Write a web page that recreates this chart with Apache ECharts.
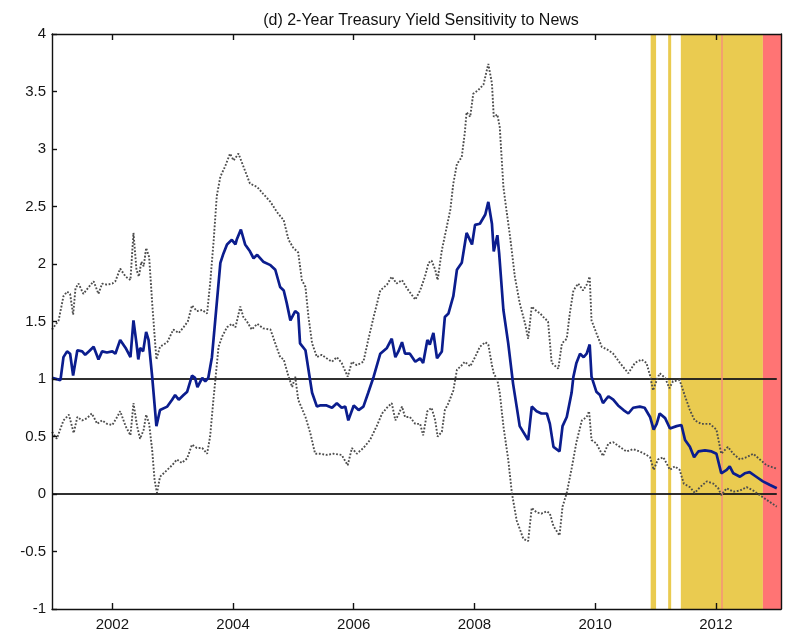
<!DOCTYPE html>
<html>
<head>
<meta charset="utf-8">
<title>2-Year Treasury Yield Sensitivity to News</title>
<script src="https://cdn.jsdelivr.net/npm/echarts@6/dist/echarts.min.js"></script>
<style>
  html, body { margin: 0; padding: 0; background: #fff; }
  #chart { width: 795px; height: 634px; }
</style>
</head>
<body>
<div id="chart"></div>
<script>
// Rolling sensitivity estimate of the 2-year yield to news (decimal year, value)
const estimate = [
  [2001.00,1.01],[2001.14,0.99],[2001.19,1.19],[2001.25,1.24],[2001.30,1.22],[2001.35,1.03],
  [2001.42,1.25],[2001.50,1.24],[2001.55,1.21],[2001.61,1.24],[2001.69,1.28],[2001.77,1.17],
  [2001.83,1.24],[2001.91,1.23],[2002.00,1.24],[2002.05,1.22],[2002.13,1.34],[2002.22,1.27],
  [2002.30,1.19],[2002.35,1.51],[2002.40,1.31],[2002.43,1.17],[2002.46,1.27],[2002.51,1.24],
  [2002.56,1.41],[2002.60,1.34],[2002.66,1.02],[2002.73,0.59],[2002.79,0.73],[2002.91,0.76],
  [2002.99,0.82],[2003.04,0.86],[2003.10,0.82],[2003.18,0.86],[2003.24,0.89],[2003.32,1.03],
  [2003.37,1.01],[2003.41,0.93],[2003.49,1.01],[2003.54,0.98],[2003.59,1.01],[2003.65,1.19],
  [2003.71,1.54],[2003.79,2.01],[2003.84,2.09],[2003.90,2.17],[2003.98,2.21],[2004.04,2.17],
  [2004.06,2.21],[2004.13,2.30],[2004.20,2.17],[2004.28,2.11],[2004.34,2.05],[2004.40,2.08],
  [2004.50,2.02],[2004.62,1.99],[2004.70,1.95],[2004.78,1.80],[2004.84,1.77],[2004.89,1.66],
  [2004.95,1.51],[2005.03,1.59],[2005.08,1.57],[2005.11,1.31],[2005.20,1.25],[2005.25,1.08],
  [2005.31,0.88],[2005.39,0.76],[2005.44,0.77],[2005.55,0.77],[2005.64,0.75],[2005.72,0.79],
  [2005.80,0.75],[2005.86,0.76],[2005.91,0.64],[2006.00,0.77],[2006.08,0.73],[2006.16,0.76],
  [2006.24,0.88],[2006.33,1.02],[2006.44,1.22],[2006.55,1.27],[2006.63,1.35],[2006.69,1.19],
  [2006.74,1.24],[2006.80,1.32],[2006.85,1.22],[2006.93,1.22],[2007.02,1.15],[2007.10,1.18],
  [2007.15,1.14],[2007.22,1.34],[2007.26,1.30],[2007.32,1.40],[2007.38,1.18],[2007.46,1.24],
  [2007.51,1.54],[2007.57,1.57],[2007.65,1.72],[2007.71,1.95],[2007.79,2.01],[2007.87,2.27],
  [2007.96,2.17],[2008.01,2.34],[2008.09,2.35],[2008.18,2.43],[2008.23,2.54],[2008.29,2.35],
  [2008.32,2.11],[2008.38,2.25],[2008.41,2.09],[2008.48,1.60],[2008.56,1.31],[2008.64,0.96],
  [2008.70,0.76],[2008.75,0.59],[2008.89,0.47],[2008.95,0.76],[2009.03,0.72],[2009.11,0.70],
  [2009.20,0.70],[2009.25,0.61],[2009.31,0.41],[2009.41,0.37],[2009.46,0.59],[2009.53,0.67],
  [2009.61,0.88],[2009.64,1.02],[2009.69,1.14],[2009.75,1.22],[2009.81,1.19],[2009.86,1.22],
  [2009.91,1.30],[2009.94,1.02],[2010.02,0.89],[2010.08,0.86],[2010.13,0.79],[2010.22,0.85],
  [2010.30,0.82],[2010.38,0.77],[2010.47,0.73],[2010.55,0.70],[2010.63,0.75],[2010.74,0.76],
  [2010.82,0.75],[2010.91,0.67],[2010.97,0.56],[2011.02,0.61],[2011.07,0.70],[2011.16,0.66],
  [2011.24,0.57],[2011.35,0.59],[2011.43,0.60],[2011.49,0.47],[2011.57,0.41],[2011.64,0.32],
  [2011.71,0.37],[2011.82,0.38],[2011.93,0.37],[2012.01,0.35],[2012.09,0.18],[2012.18,0.21],
  [2012.23,0.24],[2012.29,0.18],[2012.40,0.15],[2012.48,0.18],[2012.56,0.19],[2012.67,0.15],
  [2012.78,0.11],[2012.89,0.08],[2013.01,0.05]
];

// Upper confidence bound
const upperBound = [
  [2001.00,1.43],[2001.11,1.51],[2001.19,1.72],[2001.25,1.76],[2001.30,1.74],[2001.35,1.56],
  [2001.39,1.79],[2001.44,1.83],[2001.52,1.74],[2001.61,1.80],[2001.69,1.85],[2001.77,1.74],
  [2001.83,1.83],[2001.91,1.82],[2002.00,1.83],[2002.05,1.85],[2002.13,1.96],[2002.22,1.89],
  [2002.30,1.86],[2002.35,2.27],[2002.40,1.95],[2002.44,1.89],[2002.48,2.02],[2002.52,1.98],
  [2002.56,2.14],[2002.61,2.06],[2002.66,1.66],[2002.73,1.17],[2002.79,1.28],[2002.91,1.32],
  [2003.01,1.43],[2003.10,1.40],[2003.18,1.45],[2003.25,1.50],[2003.32,1.64],[2003.40,1.59],
  [2003.49,1.60],[2003.57,1.57],[2003.62,1.83],[2003.68,2.21],[2003.73,2.59],[2003.79,2.76],
  [2003.87,2.85],[2003.95,2.96],[2004.01,2.90],[2004.09,2.96],[2004.17,2.85],[2004.28,2.70],
  [2004.40,2.67],[2004.50,2.61],[2004.62,2.54],[2004.73,2.45],[2004.84,2.38],[2004.92,2.21],
  [2005.00,2.14],[2005.08,2.10],[2005.14,1.86],[2005.20,1.80],[2005.25,1.54],[2005.31,1.31],
  [2005.39,1.19],[2005.47,1.21],[2005.55,1.18],[2005.64,1.15],[2005.72,1.19],[2005.80,1.14],
  [2005.90,1.02],[2005.97,1.15],[2006.05,1.12],[2006.16,1.15],[2006.24,1.34],[2006.33,1.54],
  [2006.44,1.77],[2006.55,1.82],[2006.63,1.89],[2006.71,1.83],[2006.80,1.86],[2006.88,1.79],
  [2007.02,1.69],[2007.10,1.77],[2007.18,1.89],[2007.24,2.01],[2007.29,2.03],[2007.35,1.95],
  [2007.39,1.86],[2007.46,2.12],[2007.54,2.32],[2007.60,2.47],[2007.65,2.70],[2007.71,2.87],
  [2007.79,2.93],[2007.84,3.14],[2007.87,3.32],[2007.93,3.28],[2007.98,3.48],[2008.06,3.51],
  [2008.15,3.56],[2008.23,3.74],[2008.29,3.57],[2008.32,3.28],[2008.38,3.30],[2008.42,3.19],
  [2008.48,2.67],[2008.53,2.47],[2008.59,2.24],[2008.67,1.89],[2008.75,1.66],[2008.84,1.48],
  [2008.89,1.35],[2008.95,1.63],[2009.03,1.59],[2009.09,1.57],[2009.14,1.54],[2009.22,1.50],
  [2009.28,1.14],[2009.39,1.09],[2009.45,1.31],[2009.53,1.35],[2009.58,1.57],[2009.64,1.77],
  [2009.72,1.83],[2009.80,1.77],[2009.86,1.82],[2009.91,1.89],[2009.94,1.51],[2010.02,1.40],
  [2010.11,1.28],[2010.22,1.25],[2010.30,1.22],[2010.41,1.14],[2010.55,1.05],[2010.66,1.14],
  [2010.77,1.17],[2010.85,1.14],[2010.91,1.03],[2010.96,0.90],[2011.02,0.99],[2011.07,1.05],
  [2011.16,1.01],[2011.23,0.92],[2011.29,0.98],[2011.40,0.99],[2011.49,0.85],[2011.57,0.73],
  [2011.65,0.64],[2011.76,0.61],[2011.90,0.61],[2012.01,0.56],[2012.09,0.35],[2012.20,0.41],
  [2012.29,0.35],[2012.40,0.30],[2012.51,0.32],[2012.62,0.35],[2012.73,0.30],[2012.84,0.25],
  [2013.01,0.22]
];

// Lower confidence bound
const lowerBound = [
  [2001.00,0.54],[2001.08,0.48],[2001.19,0.64],[2001.28,0.69],[2001.36,0.53],[2001.42,0.67],
  [2001.50,0.64],[2001.58,0.66],[2001.66,0.70],[2001.75,0.61],[2001.83,0.64],[2001.91,0.61],
  [2002.00,0.60],[2002.08,0.67],[2002.13,0.72],[2002.22,0.59],[2002.30,0.51],[2002.35,0.79],
  [2002.41,0.59],[2002.46,0.48],[2002.52,0.56],[2002.56,0.69],[2002.61,0.61],[2002.66,0.38],
  [2002.70,0.12],[2002.74,0.01],[2002.79,0.15],[2002.91,0.21],[2002.99,0.25],[2003.07,0.30],
  [2003.15,0.27],[2003.24,0.31],[2003.32,0.43],[2003.40,0.40],[2003.49,0.40],[2003.57,0.35],
  [2003.62,0.50],[2003.68,0.85],[2003.76,1.28],[2003.82,1.37],[2003.90,1.45],[2003.98,1.48],
  [2004.04,1.45],[2004.12,1.63],[2004.17,1.54],[2004.23,1.50],[2004.31,1.43],[2004.40,1.48],
  [2004.50,1.44],[2004.62,1.43],[2004.70,1.31],[2004.78,1.19],[2004.84,1.17],[2004.92,1.02],
  [2004.98,0.93],[2005.03,1.02],[2005.08,0.82],[2005.20,0.67],[2005.28,0.53],[2005.36,0.35],
  [2005.44,0.35],[2005.55,0.34],[2005.66,0.35],[2005.80,0.34],[2005.90,0.25],[2005.97,0.40],
  [2006.05,0.35],[2006.16,0.40],[2006.27,0.47],[2006.38,0.59],[2006.47,0.70],[2006.55,0.75],
  [2006.63,0.79],[2006.69,0.64],[2006.74,0.69],[2006.80,0.76],[2006.85,0.67],[2006.93,0.67],
  [2007.02,0.61],[2007.10,0.61],[2007.15,0.51],[2007.22,0.72],[2007.29,0.75],[2007.35,0.64],
  [2007.39,0.50],[2007.46,0.54],[2007.51,0.73],[2007.57,0.79],[2007.65,0.90],[2007.71,1.08],
  [2007.79,1.12],[2007.84,1.15],[2007.93,1.11],[2008.01,1.19],[2008.09,1.28],[2008.18,1.32],
  [2008.23,1.30],[2008.29,1.12],[2008.32,1.05],[2008.38,0.99],[2008.42,0.88],[2008.48,0.59],
  [2008.56,0.30],[2008.62,0.01],[2008.70,-0.23],[2008.81,-0.39],[2008.89,-0.41],[2008.95,-0.12],
  [2009.03,-0.16],[2009.11,-0.17],[2009.20,-0.15],[2009.25,-0.17],[2009.31,-0.28],[2009.41,-0.36],
  [2009.46,-0.11],[2009.53,0.01],[2009.61,0.22],[2009.69,0.45],[2009.78,0.64],[2009.86,0.67],
  [2009.90,0.72],[2009.94,0.47],[2010.02,0.44],[2010.13,0.33],[2010.22,0.44],[2010.30,0.45],
  [2010.41,0.41],[2010.52,0.37],[2010.63,0.39],[2010.74,0.37],[2010.85,0.34],[2010.91,0.32],
  [2010.97,0.21],[2011.04,0.30],[2011.13,0.32],[2011.18,0.27],[2011.24,0.21],[2011.32,0.24],
  [2011.40,0.21],[2011.47,0.09],[2011.57,0.06],[2011.65,0.01],[2011.74,0.06],[2011.85,0.11],
  [2011.96,0.09],[2012.04,0.05],[2012.09,-0.01],[2012.18,0.05],[2012.29,0.02],[2012.40,0.03],
  [2012.51,0.06],[2012.62,0.03],[2012.73,-0.01],[2012.84,-0.05],[2013.01,-0.11]
];

// Shaded periods (decimal years)
const yellowPeriods = [[2010.92, 2011.01], [2011.21, 2011.26], [2011.42, 2012.78]];
const redPeriods = [[2012.78, 2013.08]];
const eventLines = [2012.09];

// Reference levels
const referenceLevels = [0, 1];

// Axis ticks
const yearTicks = [2002, 2004, 2006, 2008, 2010, 2012];
const xRange = [2001.0, 2013.08];
const yRange = [-1, 4];

const FONT = '"Liberation Sans", Arial, sans-serif';
const chart = echarts.init(document.getElementById('chart'), null, { renderer: 'canvas' });

const firstX = estimate[0][0];
const lastX = estimate[estimate.length - 1][0];

const areaData = []
  .concat(yellowPeriods.map(p => [
    { xAxis: p[0], itemStyle: { color: '#EACB50' } },
    { xAxis: p[1] }
  ]))
  .concat(redPeriods.map(p => [
    { xAxis: p[0], itemStyle: { color: '#FF7474' } },
    { xAxis: p[1] }
  ]));

const levelSeries = referenceLevels.map(v => ({
  type: 'line',
  name: 'level' + v,
  data: [[firstX, v], [lastX, v]],
  showSymbol: false,
  silent: true,
  z: 4,
  lineStyle: { color: '#1a1a1a', width: 2, opacity: 0.9 }
}));

const boundStyle = { color: '#4d4d4d', width: 1.9, type: [1.8, 1.7] };

const option = {
  animation: false,
  backgroundColor: '#fff',
  textStyle: { fontFamily: FONT },
  title: {
    text: '(d) 2-Year Treasury Yield Sensitivity to News',
    left: 416,
    top: 8,
    textAlign: 'center',
    textStyle: { fontFamily: FONT, fontSize: 16, fontWeight: 'normal', color: '#111' }
  },
  grid: { left: 52, right: 14, top: 34, bottom: 25, containLabel: false },
  xAxis: [
    {
      type: 'value', min: xRange[0], max: xRange[1], position: 'bottom', z: 10,
      axisLine: { show: true, onZero: false, lineStyle: { color: '#111', width: 1.4 } },
      axisTick: { show: true, inside: true, length: 6, customValues: yearTicks, lineStyle: { color: '#111', width: 1.4 } },
      axisLabel: { show: true, customValues: yearTicks, fontSize: 15, color: '#151515', margin: 8, fontFamily: FONT,
                   formatter: v => String(Math.round(v)) },
      splitLine: { show: false }
    },
    {
      type: 'value', min: xRange[0], max: xRange[1], position: 'top', z: 10,
      axisLine: { show: true, onZero: false, lineStyle: { color: '#111', width: 1.4 } },
      axisTick: { show: true, inside: true, length: 6, customValues: yearTicks, lineStyle: { color: '#111', width: 1.4 } },
      axisLabel: { show: false },
      splitLine: { show: false }
    }
  ],
  yAxis: [
    {
      type: 'value', min: yRange[0], max: yRange[1], interval: 0.5, position: 'left', z: 10,
      axisLine: { show: true, onZero: false, lineStyle: { color: '#111', width: 1.4 } },
      axisTick: { show: true, inside: true, length: 5, lineStyle: { color: '#111', width: 1.4 } },
      axisLabel: { show: true, fontSize: 15, color: '#151515', margin: 6, fontFamily: FONT },
      splitLine: { show: false }
    },
    {
      type: 'value', min: yRange[0], max: yRange[1], interval: 0.5, position: 'right', z: 10,
      axisLine: { show: true, onZero: false, lineStyle: { color: '#111', width: 1.4 } },
      axisTick: { show: false },
      axisLabel: { show: false },
      splitLine: { show: false }
    }
  ],
  series: [
    {
      type: 'line',
      name: 'shading',
      data: [],
      z: 1,
      silent: true,
      markArea: { silent: true, itemStyle: { opacity: 1 }, data: areaData },
      markLine: {
        silent: true, symbol: 'none', label: { show: false },
        lineStyle: { color: '#F4927A', width: 1.5, type: 'solid' },
        data: eventLines.map(x => ({ xAxis: x }))
      }
    },
    ...levelSeries,
    {
      type: 'line', name: 'Upper', data: upperBound, showSymbol: false, z: 5,
      lineStyle: boundStyle
    },
    {
      type: 'line', name: 'Lower', data: lowerBound, showSymbol: false, z: 5,
      lineStyle: boundStyle
    },
    {
      type: 'line', name: 'Estimate', data: estimate, showSymbol: false, z: 6,
      lineStyle: { color: '#0B1D8E', width: 2.7 }
    }
  ]
};

chart.setOption(option);
</script>
</body>
</html>
